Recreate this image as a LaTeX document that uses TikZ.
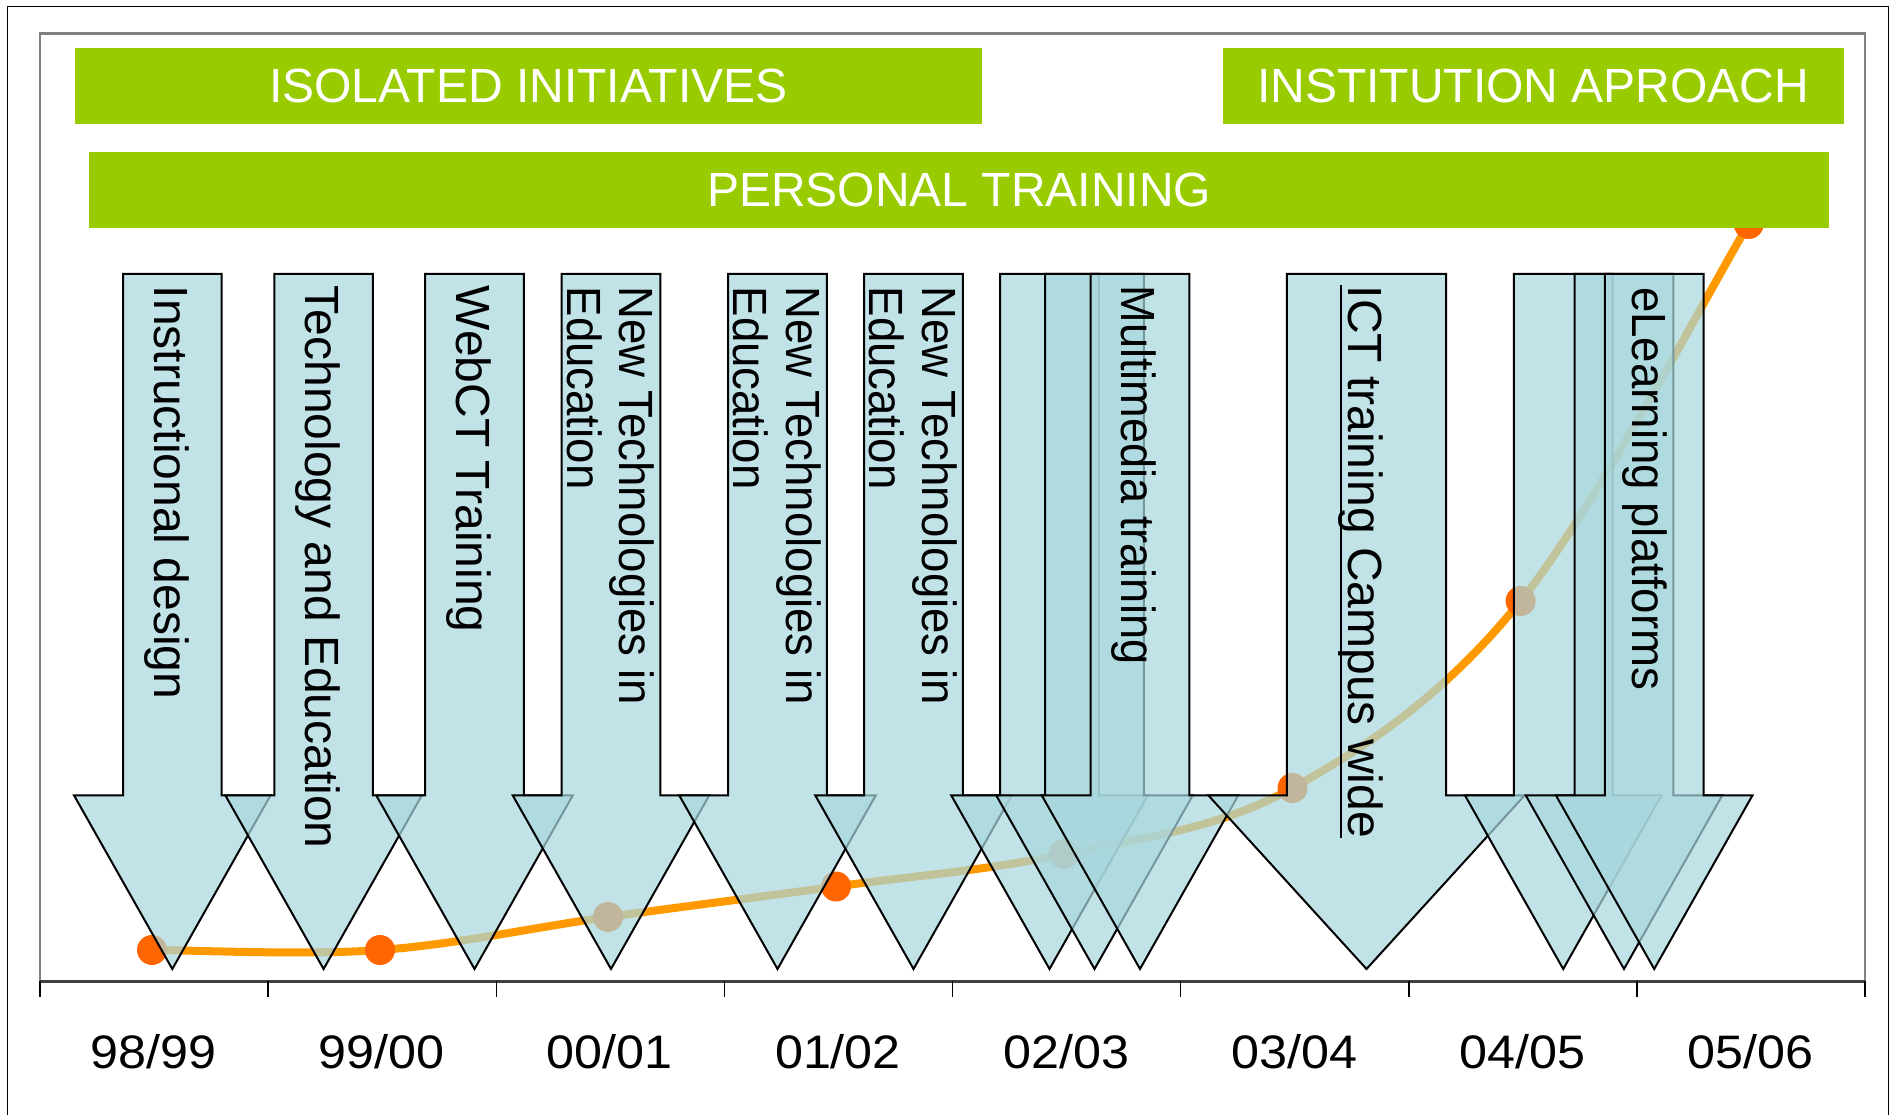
\documentclass[tikz,border=0pt]{standalone}
\usepackage{fontspec}
\setmainfont{Liberation Sans}
\newfontfamily\narrowA[FakeStretch=0.95]{Liberation Sans}
\newfontfamily\narrowB[FakeStretch=0.94]{Liberation Sans}
\newfontfamily\wideA[FakeStretch=1.07]{Liberation Sans}
\definecolor{bargreen}{RGB}{153,204,0}
\definecolor{arrowfill}{RGB}{168,215,221}
\definecolor{curveorange}{RGB}{255,153,0}
\definecolor{dotorange}{RGB}{255,102,0}
\definecolor{framegray}{RGB}{128,128,128}
\newcommand{\dnarrow}[4]{% name, center, halfshaft, halfhead
  \filldraw[arrowbox] (#2-#3,274) -- (#2+#3,274) -- (#2+#3,795.3) -- (#2+#4,795.3)
    -- (#2,969) coordinate (#1tip) -- (#2-#4,795.3) -- (#2-#3,795.3) -- cycle;}
\begin{document}
\begin{tikzpicture}[x=1pt,y=-1pt,
  arrowbox/.style={fill=arrowfill, fill opacity=0.7, draw=black, line width=2pt, line join=miter},
  greenbar/.style={fill=bargreen, text=white, inner sep=0pt, font=\fontsize{48}{52.6}\selectfont},
  lbl/.style={rotate=-90, inner sep=0pt, anchor=base west, font=\fontsize{48}{52.6}\selectfont},
  yearlbl/.style={inner sep=0pt, anchor=base, font=\wideA\fontsize{47}{52}\selectfont},
  curve/.style={draw=curveorange, line width=8pt, line cap=round, line join=round},
  dot/.style={fill=dotorange},
  tick/.style={draw=black, line width=1.5pt}]
\useasboundingbox (0,0) rectangle (1893,1115);
\fill[white] (0,0) rectangle (1893,1115);
% outer frame
\draw[line width=1.5pt] (7.5,1115) -- (7.5,6.5) -- (1888.5,6.5) -- (1888.5,1115);
% plot frame
\draw[framegray, line width=2.5pt] (40,981) -- (40,33.5) -- (1865,33.5) -- (1865,981);
\draw[black!75, line width=3pt] (40,981) -- (1865,981);
\foreach \i in {0,...,8} { \draw[tick] (40+228.125*\i,981) -- (40+228.125*\i,997); }
% year labels
\foreach \t [count=\i from 0] in {98/99,99/00,00/01,01/02,02/03,03/04,04/05,05/06} {
  \node[yearlbl] (year\i) at (153.6+228.125*\i,1068) {\t};
}
% data curve
\coordinate (p1) at (152,950);
\coordinate (p2) at (380,950);
\coordinate (p3) at (608,917);
\coordinate (p4) at (836,886.5);
\coordinate (p5) at (1064,854);
\coordinate (p6) at (1292.5,788);
\coordinate (p7) at (1520.6,601);
\coordinate (p8) at (1748.7,224);
\draw[curve] (p1) .. controls (190,950) and (304,955.5) .. (p2)
  .. controls (456,944.5) and (532,927.6) .. (p3)
  .. controls (684,906.4) and (760,897) .. (p4)
  .. controls (912,876) and (987.9,870.4) .. (p5)
  .. controls (1140.1,837.6) and (1216.4,830.2) .. (p6)
  .. controls (1368.6,745.8) and (1444.6,695) .. (p7)
  .. controls (1596.6,507) and (1710.7,286.8) .. (p8);
\foreach \p in {p1,p2,p3,p4,p5,p6,p7,p8} { \fill[dot] (\p) circle (15pt); }
% arrows, left to right
\dnarrow{a1}{172.3}{49.3}{98.3}
\dnarrow{a2}{323.6}{49.3}{98.3}
\dnarrow{a3}{474.5}{49.3}{98.3}
\dnarrow{a4}{611}{49.3}{98.3}
\dnarrow{a5}{777.5}{49.3}{98.3}
\dnarrow{a6}{913.5}{49.3}{98.3}
\dnarrow{a7}{1049.5}{49.3}{98.3}
\dnarrow{a8}{1094.5}{49.3}{98.3}
\dnarrow{a9}{1140}{49.3}{98.3}
\dnarrow{a10}{1366.5}{79.6}{158.2}
\dnarrow{a11}{1563.2}{49.3}{98.3}
\dnarrow{a12}{1624}{49.3}{98.3}
\dnarrow{a13}{1654.2}{49.3}{98.3}
% arrow labels
\node[lbl] (l1) at (154.3,285.5) {Instructional design};
\node[lbl] (l2) at (305.8,285.5) {Technology and Education};
\node[lbl] (l3) at (456.7,285.5) {WebCT Training};
\node[lbl] (l4) at (619.6,286.5) {\narrowA\vtop{\hbox{New Technologies in}\hbox{Education}}};
\node[lbl] (l5) at (786.1,286.5) {\narrowA\vtop{\hbox{New Technologies in}\hbox{Education}}};
\node[lbl] (l6) at (922.1,286.5) {\narrowA\vtop{\hbox{New Technologies in}\hbox{Education}}};
\node[lbl] (l7) at (1121.5,285.5) {\narrowB Multimedia training};
\node[lbl] (l8) at (1348.7,285.5) {ICT training Campus wide};
\draw[line width=2.5pt] ([xshift=-7.7pt]l8.base west) -- ([xshift=-7.7pt]l8.base east);
\node[lbl] (l9) at (1632.6,287) {\narrowA eLearning platforms};
% green bars
\node[greenbar, minimum width=906.6pt, minimum height=76.1pt] (isol) at (528.2,86.35) {ISOLATED INITIATIVES};
\node[greenbar, minimum width=620.5pt, minimum height=76.1pt] (inst) at (1533.25,86.35) {INSTITUTION APROACH};
\node[greenbar, minimum width=1739.7pt, minimum height=76.1pt] (pers) at (959.15,190.15) {PERSONAL TRAINING};
\end{tikzpicture}
\end{document}
